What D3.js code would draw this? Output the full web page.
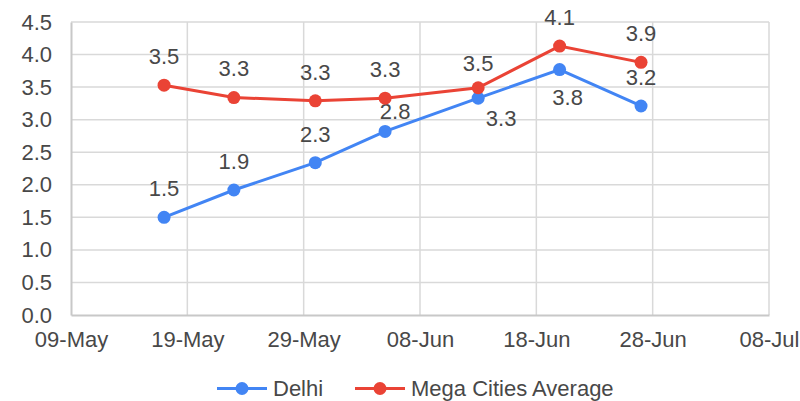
<!DOCTYPE html>
<html><head><meta charset="utf-8">
<script src="https://cdn.jsdelivr.net/npm/d3@7/dist/d3.min.js"></script>
<style>body{margin:0;background:#fff}svg{display:block}</style>
</head><body>
<script>
const dates = ["2020-05-17","2020-05-23","2020-05-30","2020-06-05","2020-06-13","2020-06-20","2020-06-27"];
const delhi = [1.50, 1.92, 2.34, 2.82, 3.33, 3.77, 3.21];
const mega  = [3.53, 3.34, 3.29, 3.33, 3.49, 4.13, 3.88];
const seriesNames = ["Delhi", "Mega Cities Average"];
const xTickLabels = ["09-May","19-May","29-May","08-Jun","18-Jun","28-Jun","08-Jul"];
const yTicks = [0,0.5,1,1.5,2,2.5,3,3.5,4,4.5];
// label placement: "a" above, "al" above (lower), "ar" above-right, "b" below, "br" below-right
const delhiLabelPos = ["a","a","a","ar","br","b","a"];
const megaLabelPos  = ["a","a","a","a","al","a","a"];

const W = 800, H = 401;
const m = {l:71, t:22, r:31, b:86};
const parse = d3.utcParse("%Y-%m-%d");
const svg = d3.select("body").append("svg").attr("width", W).attr("height", H);
const x = d3.scaleUtc().domain([parse("2020-05-09"), parse("2020-07-08")]).range([m.l, W - m.r]);
const y = d3.scaleLinear().domain([0, 4.5]).range([H - m.b, m.t]);
const xt = xTickLabels.map((l,i)=>d3.utcDay.offset(parse("2020-05-09"), i*10));

const font = "'Liberation Sans', Arial, sans-serif";
const fs = 22;
const txt = "#484848";
const grid = svg.append("g");
grid.selectAll("line.h").data(yTicks.filter(v=>v>0)).join("line")
  .attr("x1", m.l).attr("x2", W - m.r).attr("y1", d=>y(d)).attr("y2", d=>y(d))
  .attr("stroke", "#d9d9d9").attr("stroke-width", 1.5);
grid.selectAll("line.v").data(xt.slice(1)).join("line")
  .attr("x1", d=>x(d)).attr("x2", d=>x(d)).attr("y1", m.t).attr("y2", y(0))
  .attr("stroke", "#d9d9d9").attr("stroke-width", 1.5);
const ya = svg.append("g").attr("transform", `translate(${m.l},0)`)
  .call(d3.axisLeft(y).tickValues(yTicks).tickFormat(d3.format(".1f")).tickSize(0).tickPadding(19));
ya.select(".domain").attr("stroke", "#c8c8c8").attr("stroke-width", 2);
ya.selectAll("text").attr("font-family", font).attr("font-size", fs).attr("fill", txt);
const xa = svg.append("g").attr("transform", `translate(0,${y(0)})`)
  .call(d3.axisBottom(x).tickValues(xt).tickFormat((d,i)=>xTickLabels[i]).tickSize(0).tickPadding(16));
xa.select(".domain").attr("stroke", "#c8c8c8").attr("stroke-width", 2);
xa.selectAll("text").attr("font-family", font).attr("font-size", fs).attr("fill", txt);

const series = [
  {name: seriesNames[0], vals: delhi, color: "#4285f4", pos: delhiLabelPos},
  {name: seriesNames[1], vals: mega, color: "#ea4335", pos: megaLabelPos}
];
const off = {a:[0,-29], al:[0,-25], ar:[10,-20], b:[8,28], br:[23,20]};
const line = d3.line().x(d=>x(d.date)).y(d=>y(d.v));
series.forEach(s=>{
  const pts = dates.map((d,i)=>({date: parse(d), v: s.vals[i], pos: s.pos[i]}));
  const g = svg.append("g");
  g.append("path").datum(pts).attr("d", line).attr("fill","none").attr("stroke", s.color).attr("stroke-width", 3);
  g.selectAll("circle").data(pts).join("circle").attr("cx", d=>x(d.date)).attr("cy", d=>y(d.v)).attr("r", 6.5).attr("fill", s.color);
  g.selectAll("text").data(pts).join("text")
    .attr("x", d=>x(d.date) + off[d.pos][0])
    .attr("y", d=>y(d.v) + off[d.pos][1])
    .attr("dy", "0.36em").attr("text-anchor","middle")
    .attr("font-family", font).attr("font-size", fs).attr("fill", txt)
    .text(d=>d.v.toFixed(1));
});
const leg = svg.append("g").attr("transform", `translate(0,388.5)`);
const legX = [217, 355];
series.forEach((s,i)=>{
  const lx = legX[i];
  leg.append("line").attr("x1", lx).attr("x2", lx+50).attr("y1",0).attr("y2",0).attr("stroke", s.color).attr("stroke-width",3);
  leg.append("circle").attr("cx", lx+25).attr("cy",0).attr("r",6.5).attr("fill", s.color);
  leg.append("text").attr("x", lx+56).attr("y",0).attr("dy","0.36em")
    .attr("font-family", font).attr("font-size", fs).attr("fill", txt).text(s.name);
});
</script>
</body></html>
